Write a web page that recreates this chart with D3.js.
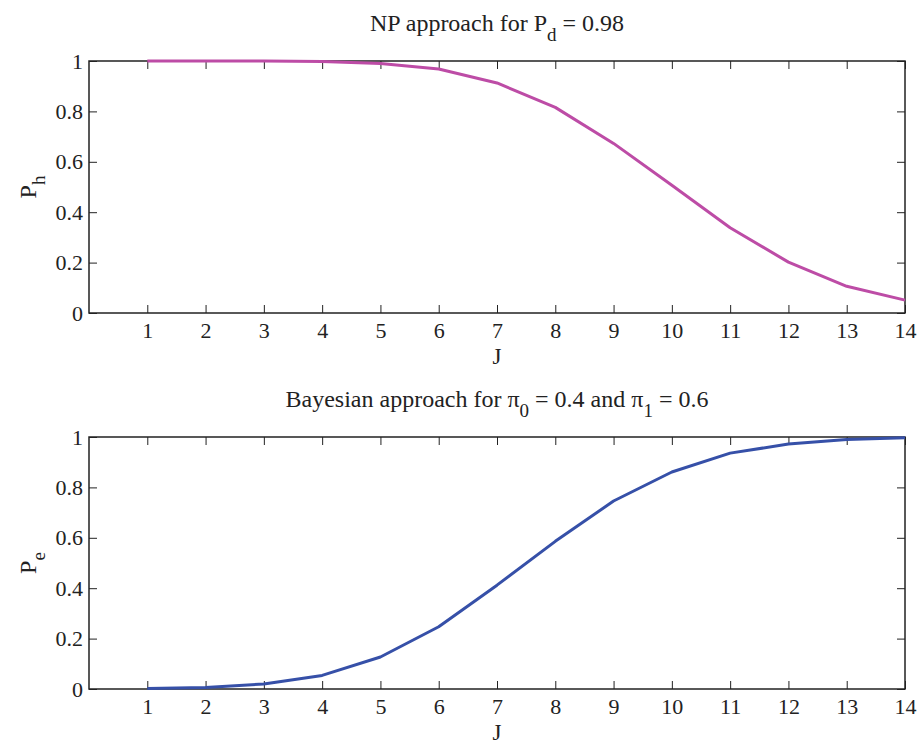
<!DOCTYPE html>
<html>
<head>
<meta charset="utf-8">
<script src="https://cdn.jsdelivr.net/npm/d3@7"></script>
<style>
  body { margin: 0; background: #fff; }
  svg text { font-family: "Liberation Serif", "Times New Roman", Times, "DejaVu Serif", serif !important; }
</style>
</head>
<body>
<svg id="chart" width="919" height="742"></svg>
<script>
// Data
const J = [1, 2, 3, 4, 5, 6, 7, 8, 9, 10, 11, 12, 13, 14];
const Ph = [1.0, 1.0, 1.0, 0.998, 0.99, 0.968, 0.913, 0.816, 0.673, 0.507, 0.338, 0.202, 0.106, 0.051];
const Pe = [0.002, 0.006, 0.02, 0.054, 0.127, 0.247, 0.412, 0.586, 0.746, 0.861, 0.936, 0.972, 0.99, 0.997];
const xTicks = [1, 2, 3, 4, 5, 6, 7, 8, 9, 10, 11, 12, 13, 14];
const yTicks = [0, 0.2, 0.4, 0.6, 0.8, 1];

const FONT = 'Liberation Serif';
const svg = d3.select('#chart');
const left = 89, right = 905;

const x = d3.scaleLinear().domain([0, 14]).range([left, right]);

/**
 * Draws one subplot panel
 */
const drawPanel = (top, bottom, values, color, ylab, xlabY, title) => {
    const y = d3.scaleLinear().domain([0, 1]).range([bottom, top]);
    const g = svg.append('g');

    // box
    g.append('rect')
        .attr('x', left).attr('y', top)
        .attr('width', right - left).attr('height', bottom - top)
        .attr('fill', 'none').attr('stroke', '#222').attr('stroke-width', 1.5);

    // bottom axis, ticks inward
    const xb = g.append('g').attr('transform', `translate(0,${bottom})`)
        .call(d3.axisBottom(x).tickValues(xTicks).tickSizeInner(-8).tickSizeOuter(0).tickPadding(9));
    xb.select('.domain').remove();
    xb.selectAll('line').attr('stroke', '#222');
    xb.selectAll('text').style('font-size', '22px').attr('fill', '#222');

    // top ticks
    g.append('g').attr('transform', `translate(0,${top})`)
        .call(d3.axisTop(x).tickValues(xTicks).tickSizeInner(-8).tickSizeOuter(0).tickFormat(''))
        .call(a => a.select('.domain').remove())
        .selectAll('line').attr('stroke', '#222');

    // left axis
    const yl = g.append('g').attr('transform', `translate(${left},0)`)
        .call(d3.axisLeft(y).tickValues(yTicks).tickSizeInner(-8).tickSizeOuter(0).tickPadding(6).tickFormat(d3.format('')));
    yl.select('.domain').remove();
    yl.selectAll('line').attr('stroke', '#222');
    yl.selectAll('text').style('font-size', '22px').attr('fill', '#222');

    // right ticks
    g.append('g').attr('transform', `translate(${right},0)`)
        .call(d3.axisRight(y).tickValues(yTicks).tickSizeInner(-8).tickSizeOuter(0).tickFormat(''))
        .call(a => a.select('.domain').remove())
        .selectAll('line').attr('stroke', '#222');

    // curve
    const line = d3.line().x((d, i) => x(J[i])).y(d => y(d));
    g.append('path')
        .datum(values)
        .attr('d', line)
        .attr('fill', 'none')
        .attr('stroke', color)
        .attr('stroke-width', 3)
        .attr('stroke-linejoin', 'round');

    // x label
    g.append('text')
        .attr('x', (left + right) / 2)
        .attr('y', xlabY)
        .attr('text-anchor', 'middle')
        .attr('fill', '#222')
        .style('font-size', '23px')
        .text('J');

    // y label, rotated with subscript
    const yt = g.append('text')
        .attr('transform', `translate(36,${(top + bottom) / 2}) rotate(-90)`)
        .attr('text-anchor', 'middle')
        .attr('fill', '#222')
        .style('font-size', '24px');
    yt.append('tspan').text('P');
    yt.append('tspan').attr('dy', 9).style('font-size', '19px').text(ylab);

    // title
    const t = g.append('text')
        .attr('x', (left + right) / 2)
        .attr('y', top - 30)
        .attr('text-anchor', 'middle')
        .attr('fill', '#222')
        .style('font-size', '24px');
    title(t);
};

drawPanel(61, 313, Ph, '#bd4ca6', 'h', 364, t => {
    t.append('tspan').text('NP approach for P');
    t.append('tspan').attr('dy', 10).style('font-size', '19px').text('d');
    t.append('tspan').attr('dy', -10).text(' = 0.98');
});

drawPanel(437, 689, Pe, '#3650a8', 'e', 740, t => {
    t.append('tspan').text('Bayesian approach for \u03c0');
    t.append('tspan').attr('dy', 10).style('font-size', '19px').text('0');
    t.append('tspan').attr('dy', -10).text(' = 0.4 and \u03c0');
    t.append('tspan').attr('dy', 10).style('font-size', '19px').text('1');
    t.append('tspan').attr('dy', -10).text(' = 0.6');
});

svg.selectAll('text').style('font-family', FONT);
</script>
</body>
</html>
